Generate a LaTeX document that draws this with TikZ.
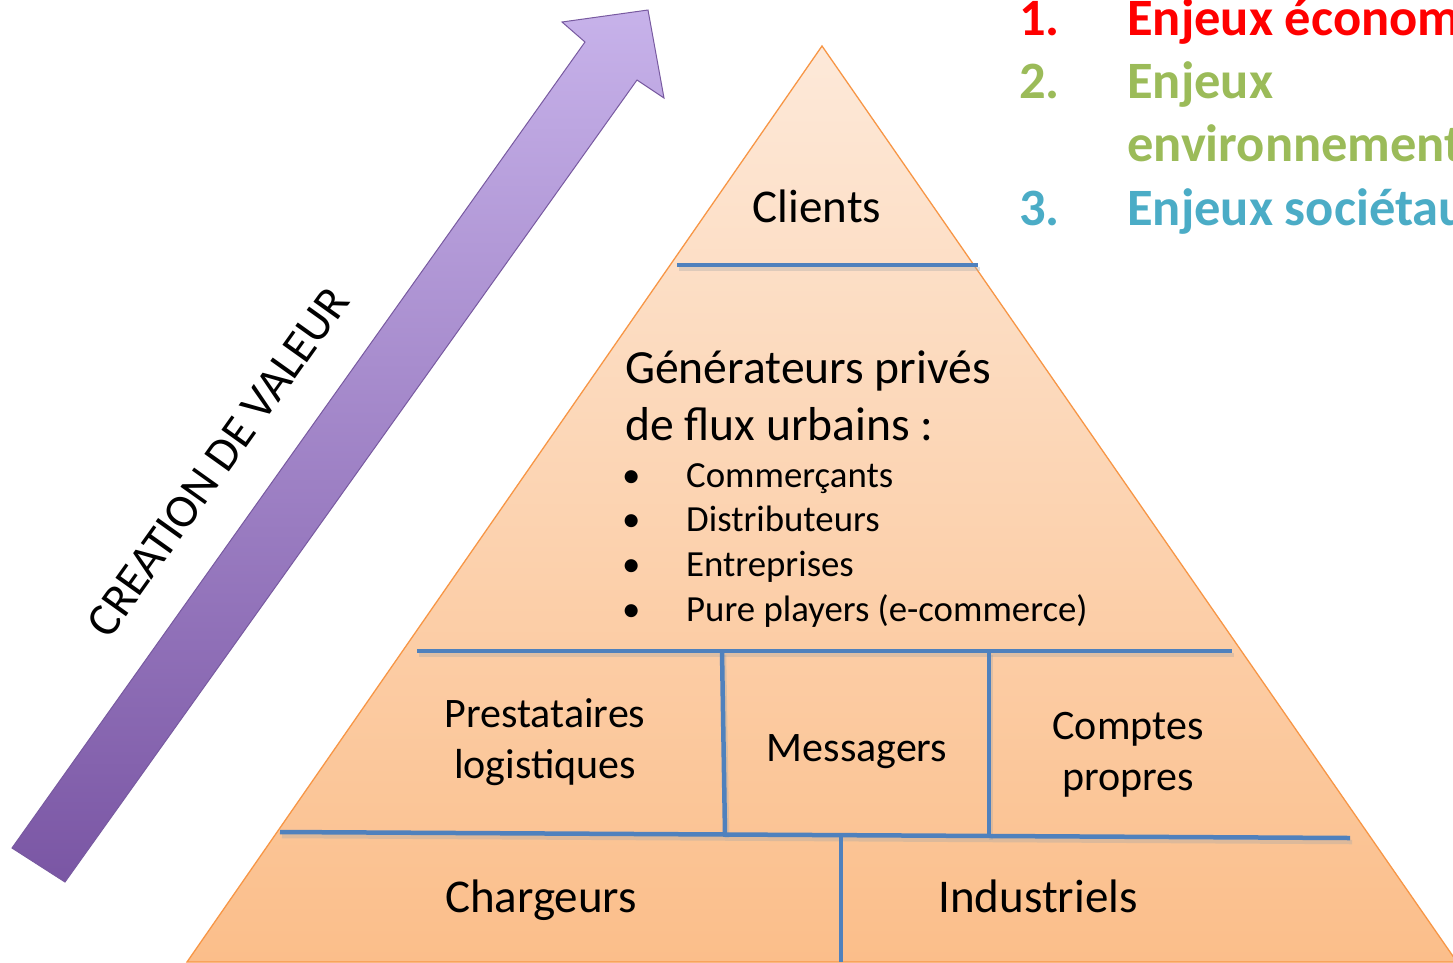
\documentclass[tikz,border=0pt]{standalone}
\usepackage{fontspec}
\setmainfont{Carlito}
\definecolor{pyrtop}{RGB}{253,233,217}
\definecolor{pyrbot}{RGB}{251,190,138}
\definecolor{pyredge}{RGB}{247,150,70}
\definecolor{sep}{RGB}{79,129,189}
\definecolor{arrtop}{RGB}{199,178,234}
\definecolor{arrbot}{RGB}{122,86,164}
\definecolor{arredge}{RGB}{120,90,160}
\definecolor{ered}{RGB}{255,0,0}
\definecolor{egreen}{RGB}{155,187,89}
\definecolor{eblue}{RGB}{75,172,198}
\newcommand{\fs}[1]{\fontsize{#1}{#1}\selectfont}
\begin{document}
\begin{tikzpicture}[x=1pt,y=-1pt,
  sepline/.style={draw=sep,line width=4.5pt},
  shadowline/.style={draw=black!35,opacity=0.35,line width=4.5pt},
  lbl/.style={inner sep=0pt,anchor=base,text=black},
  big/.style={lbl,font=\fs{47}},
  mid/.style={lbl,font=\fs{42}},
  small/.style={inner sep=0pt,anchor=base west,font=\fs{36.8}},
  issue/.style={inner sep=0pt,anchor=base west,font=\bfseries\fs{52.5}}]
\useasboundingbox (0,0) rectangle (1453,962);
\clip (0,0) rectangle (1453,962);
% arrow
\shade[top color=arrtop,bottom color=arrbot,draw=arredge,line width=1pt]
  (12,848) -- (585,42) -- (562,22) -- (648,10) -- (664,98) -- (637,80) -- (65,882) -- cycle;
\node[inner sep=0pt,rotate=54.5,font=\fs{47}] (cdv) at (218,462) {CREATION DE VALEUR};
% pyramid
\shade[top color=pyrtop,bottom color=pyrbot] (822,46) -- (187,962) -- (1457,962) -- cycle;
\draw[pyredge,line width=1.3pt] (822,46) -- (187,962) -- (1457,962) -- cycle;
% separator shadows
\begin{scope}[shift={(2,4)}]
\draw[shadowline] (677,265) -- (978,265);
\draw[shadowline] (417,651) -- (1232,651);
\draw[shadowline] (280,832) -- (1350,838);
\draw[shadowline] (722,651) -- (725,834);
\draw[shadowline] (989,651) -- (989,836);
\end{scope}
% separators
\draw[sepline] (677,265) -- (978,265);
\draw[sepline] (417,651) -- (1232,651);
\draw[sepline] (280,832) -- (1350,838);
\draw[sepline] (722,651) -- (725,834);
\draw[sepline] (989,651) -- (989,836);
\draw[sepline] (841,835) -- (841,962);
% texts
\node[big] (clients) at (817,222) {Clients};
\node[inner sep=0pt,anchor=base west,font=\fs{47.6}] (gen1) at (625,383) {Générateurs privés};
\node[inner sep=0pt,anchor=base west,font=\fs{47.6}] (gen2) at (625,440) {de flux urbains :};
\foreach \y/\t [count=\i] in {487/Commerçants,531/Distributeurs,576/Entreprises,621/Pure players (e-commerce)}{
  \node[small] (b\i) at (622,\y) {\textbullet};
  \node[small] (it\i) at (686,\y) {\t};
}
\node[mid] (prest1) at (545,727) {Prestataires};
\node[mid] (prest2) at (545,778) {logistiques};
\node[mid] (mess) at (857,761) {Messagers};
\node[mid] (cp1) at (1128,739) {Comptes};
\node[mid] (cp2) at (1128,790) {propres};
\node[big] (charg) at (541,912) {Chargeurs};
\node[big] (indus) at (1038,912) {Industriels};
% issues
\node[issue,text=ered] (n1) at (1019,35) {1.};
\node[issue,text=ered] (e1) at (1127,35) {Enjeux économiques};
\node[issue,text=egreen] (n2) at (1019,98) {2.};
\node[issue,text=egreen] (e2) at (1127,98) {Enjeux};
\node[issue,text=egreen] (e2b) at (1127,161) {environnementaux};
\node[issue,text=eblue] (n3) at (1019,225) {3.};
\node[issue,text=eblue] (e3) at (1127,225) {Enjeux sociétaux};
\end{tikzpicture}
\end{document}
